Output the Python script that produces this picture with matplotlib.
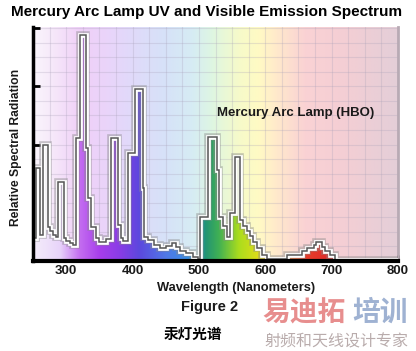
import numpy as np
import matplotlib
matplotlib.use("Agg")
import matplotlib.pyplot as plt

# ---- data ----
edges = [250, 254, 261, 265, 273, 276, 280, 284, 288, 296, 300, 305, 310, 315, 321, 330,
         333, 338, 345, 350, 360, 367, 378, 382, 386, 393, 403, 415, 418, 423, 433, 441,
         451, 459, 466, 471, 481, 491, 499, 501, 514, 528, 531, 537, 542, 547, 555, 562,
         567, 572, 577, 582, 587, 595, 602, 632, 656, 663, 673, 677, 685, 690, 698, 705, 800]
radiation = [0.40, 1.60, 0.45, 2.00, 0.59, 0.52, 0.45, 0.42, 1.36, 0.39, 0.35, 0.31, 0.27, 2.12, 3.88,
             1.94, 1.08, 0.59, 0.39, 0.33, 0.38, 2.12, 0.62, 0.40, 0.34, 1.85, 2.96, 1.25, 0.42, 0.36,
             0.28, 0.22, 0.26, 0.31, 0.24, 0.18, 0.13, 0.07, 0.04, 0.76, 2.13, 1.56, 0.76, 0.60, 0.42,
             0.82, 1.79, 0.70, 0.60, 0.52, 0.43, 0.32, 0.22, 0.10, 0.03, 0.10, 0.17, 0.22, 0.27, 0.32,
             0.24, 0.17, 0.10, 0.02]
x_ticks = [300, 400, 500, 600, 700, 800]
y_ticks = [0, 1, 2, 3, 4]

title = "Mercury Arc Lamp UV and Visible Emission Spectrum"
series_label = "Mercury Arc Lamp (HBO)"
y_label = "Relative Spectral Radiation"
x_label = "Wavelength (Nanometers)"
fig_label = "Figure 2"
cn_caption = "汞灯光谱"

# ---- colour ramps (style) ----
pale_nm = [250, 280, 320, 360, 400, 450, 490, 520, 560, 590, 620, 660, 720, 800]
pale_rgb = [(250, 246, 252), (246, 232, 250), (240, 208, 248), (234, 212, 250), (224, 218, 250),
            (214, 226, 248), (214, 236, 244), (222, 246, 226), (246, 250, 202), (255, 250, 196),
            (255, 232, 204), (250, 210, 212), (244, 206, 212), (228, 206, 216)]
sat_nm = [250, 290, 320, 350, 380, 410, 450, 480, 500, 510, 530, 560, 590, 620, 660, 700, 800]
sat_rgb = [(245, 238, 250), (232, 212, 250), (196, 110, 240), (168, 62, 236), (138, 60, 230),
           (92, 72, 222), (80, 120, 230), (60, 140, 230), (40, 150, 200), (34, 148, 116),
           (64, 176, 84), (170, 220, 30), (222, 222, 24), (240, 150, 40), (232, 62, 42),
           (222, 42, 42), (200, 80, 80)]


def ramp(nm_stops, rgb_stops, xs):
    arr = np.array(rgb_stops, dtype=float) / 255.0
    return np.stack([np.interp(xs, nm_stops, arr[:, i]) for i in range(3)], axis=-1)


fig = plt.figure(figsize=(4.16, 3.51), dpi=100)
fig.patch.set_facecolor("white")
ax = fig.add_axes([33 / 416, 1 - 261 / 351, (398 - 33) / 416, (261 - 27) / 351])

xmin, xmax, ymax = 250, 800, 4.02
xs = np.linspace(xmin, xmax, 600)
bg = ramp(pale_nm, pale_rgb, xs)[None, :, :]
ax.imshow(bg, extent=[xmin, xmax, 0, ymax], aspect="auto", origin="lower", zorder=0,
          interpolation="bilinear")

# grid
for gx in np.arange(250, 801, 25):
    ax.axvline(gx, color="#a8a0b8", alpha=0.28, lw=0.8, zorder=1)
for gy in np.arange(0, 4.01, 0.25):
    ax.axhline(gy, color="#a8a0b8", alpha=0.28, lw=0.8, zorder=1)

# saturated fill under the curve
fill_patch = ax.stairs(radiation, edges, baseline=0, fill=True, facecolor="none",
                       edgecolor="none", zorder=2)
sat = ramp(sat_nm, sat_rgb, xs)[None, :, :]
im2 = ax.imshow(sat, extent=[xmin, xmax, 0, ymax], aspect="auto", origin="lower", zorder=2,
                interpolation="bilinear")
im2.set_clip_path(fill_patch)

# outline: shadow, white halo, dark core
ax.stairs(radiation, edges, baseline=None, color="#8a8a8a", lw=5.5, alpha=0.45, zorder=3)
ax.stairs(radiation, edges, baseline=None, color="white", lw=3.4, zorder=4)
ax.stairs(radiation, edges, baseline=None, color="#555555", lw=1.1, zorder=5)

ax.set_xlim(xmin, xmax)
ax.set_ylim(0, ymax)
ax.set_xticks(x_ticks)
ax.set_yticks(y_ticks)
ax.set_yticklabels([])
ax.tick_params(axis="x", direction="in", length=4, width=2, pad=3, labelsize=9.5)
ax.tick_params(axis="y", direction="in", length=5, width=2)
for lab in ax.get_xticklabels():
    lab.set_fontweight("bold")
    lab.set_color("#1a1a1a")
    lab.set_family("Liberation Sans")
ax.spines["top"].set_visible(False)
ax.spines["right"].set_color("#b8aab4")
ax.spines["right"].set_linewidth(2)
ax.spines["left"].set_linewidth(2.5)
ax.spines["bottom"].set_linewidth(3)
ax.spines["left"].set_zorder(6)
ax.spines["bottom"].set_zorder(6)

# texts
fig.text(207 / 416, 1 - 12 / 351, title, ha="center", va="center", fontsize=11,
         fontweight="bold", family="Liberation Sans")
fig.text(296 / 416, 1 - 113 / 351, series_label, ha="center", va="center", fontsize=9.5,
         fontweight="bold", family="Liberation Sans", color="#1a1a1a")
fig.text(16 / 416, 1 - 147 / 351, y_label, ha="center", va="center", rotation=90,
         fontsize=8.7, fontweight="bold", family="Liberation Sans", color="#1a1a1a")
fig.text(236 / 416, 1 - 287.5 / 351, x_label, ha="center", va="center", fontsize=9.3,
         fontweight="bold", family="Liberation Sans", color="#1a1a1a")
fig.text(210 / 416, 1 - 307 / 351, fig_label, ha="center", va="center", fontsize=10.5,
         fontweight="bold", family="Liberation Sans", color="#1a1a1a")
fig.text(193 / 416, 1 - 333.5 / 351, cn_caption, ha="center", va="center", fontsize=10.5,
         fontweight="bold", family=["Noto Sans CJK SC", "DejaVu Sans"])

# watermark
fig.text(262 / 416, 1 - 313 / 351, "易迪拓", ha="left", va="center", fontsize=20,
         fontweight="bold", family=["Noto Sans CJK SC", "DejaVu Sans"], color="#e06868", alpha=0.75)
fig.text(352 / 416, 1 - 313 / 351, "培训", ha="left", va="center", fontsize=20,
         fontweight="bold", family=["Noto Sans CJK SC", "DejaVu Sans"], color="#7f98c4", alpha=0.75)
fig.text(336 / 416, 1 - 342 / 351, "射频和天线设计专家", ha="center", va="center", fontsize=11.5,
         family=["Noto Sans CJK SC", "DejaVu Sans"], color="#a89898", alpha=0.8)

fig.savefig("out.png", dpi=100)
